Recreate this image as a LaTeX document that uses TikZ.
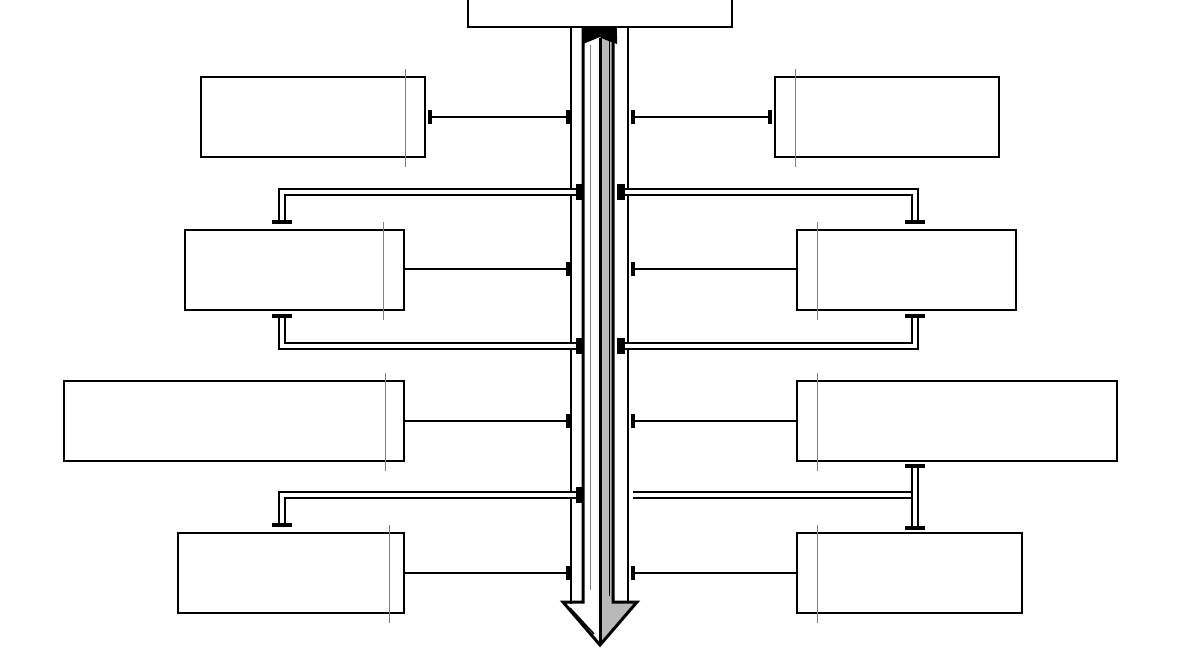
\documentclass[tikz,border=0pt]{standalone}
\begin{document}
\begin{tikzpicture}[x=0.5pt,y=-0.5pt,
 box/.style={draw,line width=1.3pt,fill=white},
 guide/.style={line width=0.4pt,gray},
 conn/.style={line width=1.3pt},
 dbl/.style={double,double distance=1.8pt,line width=1pt},
 bar/.style={line width=2pt}]
\useasboundingbox (0,0) rectangle (1200,670);
\clip (0,0) rectangle (1200,670);
% boxes
\node[box,minimum width=132pt,minimum height=32pt,inner sep=0pt] (top) at (600,-5) {};
\foreach \n/\a/\b/\c/\d/\g in {L1/201/77/425/157/405,L2/185/230/404/310/383,L3/64/381/404/461/385,L4/178/533/404/613/389,R1/775/77/999/157/795,R2/797/230/1016/310/817,R3/797/381/1117/461/817,R4/797/533/1022/613/817}{
 \draw[box] (\a,\b) rectangle (\c,\d);
 \draw[guide] (\g,\b-8) -- (\g,\d+10);
}
% rails
\draw[line width=1.3pt] (571,27) -- (571,604);
\draw[line width=1.3pt] (628,27) -- (628,604);
% arrow
\fill[gray!55] (600,27) -- (613,27) -- (613,602) -- (637,602) -- (600,645) -- cycle;
\draw[line width=1.5pt,line join=miter] (583,27) -- (583,602) -- (563,602) -- (600,645) -- (637,602) -- (613,602) -- (613,27);
\draw[line width=1.5pt] (600,38) -- (600,645);
\draw[line width=0.4pt,gray] (590,45) -- (590,590);
\draw[line width=0.8pt] (570,608) -- (594,634);
\draw[line width=0.5pt] (609,40) -- (609,596);
\fill (583,27) rectangle (617,36);
\fill (583,36) -- (600,32) -- (617,36) -- (617,44) -- (606,40) -- (600,37) -- (583,44) -- cycle;
% single connectors
\foreach \y in {269,421,573}{
 \draw[conn] (404,\y) -- (568,\y); \draw[bar] (568,\y-7) -- (568,\y+7);
 \draw[conn] (633,\y) -- (797,\y); \draw[bar] (633,\y-7) -- (633,\y+7);
}
\draw[conn] (430,117) -- (568,117); \draw[bar] (568,110) -- (568,124); \draw[bar] (430,110) -- (430,124);
\draw[conn] (633,117) -- (770,117); \draw[bar] (633,110) -- (633,124); \draw[bar] (770,110) -- (770,124);
% double connectors
\draw[dbl] (578,192) -- (282,192) -- (282,221); \draw[bar] (272,222) -- (292,222);
\draw[dbl] (578,346) -- (282,346) -- (282,317); \draw[bar] (272,316) -- (292,316);
\draw[dbl] (578,495) -- (282,495) -- (282,524); \draw[bar] (272,525) -- (292,525);
\draw[dbl] (622,192) -- (915,192) -- (915,221); \draw[bar] (905,222) -- (925,222);
\draw[dbl] (622,346) -- (915,346) -- (915,317); \draw[bar] (905,316) -- (925,316);
\draw[dbl] (633,495) -- (913,495);
\draw[dbl] (915,467) -- (915,528); \draw[bar] (905,466) -- (925,466); \draw[bar] (905,528) -- (925,528);
% blocks
\foreach \y in {192,346,495}{\fill (576,\y-8) rectangle (584,\y+8);}
\foreach \y in {192,346}{\fill (617,\y-8) rectangle (625,\y+8);}
\end{tikzpicture}
\end{document}
